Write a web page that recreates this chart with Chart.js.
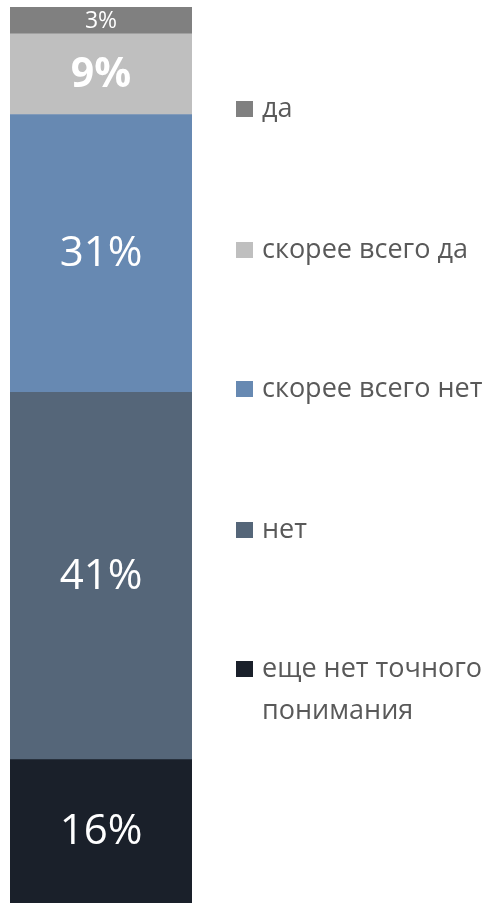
<!DOCTYPE html>
<html>
<head>
<meta charset="utf-8">
<script src="https://cdn.jsdelivr.net/npm/chart.js@4"></script>
<style>
    html, body { margin: 0; padding: 0; background: #fff; }
    #wrap { position: relative; width: 492px; height: 903px; }
</style>
</head>
<body>
<div id="wrap"><canvas id="stackChart"></canvas></div>
<script>
// stacked from bottom to top
var categories = ["Ответ"];
var seriesLabels = ["еще нет точного понимания", "нет", "скорее всего нет", "скорее всего да", "да"];
var seriesValues = [16, 41, 31, 9, 3];
var seriesColors = ["#1a202a", "#556679", "#6789b2", "#bfbfbf", "#808080"];
var valueLabels = ["16%", "41%", "31%", "9%", "3%"];
var labelFonts = ["normal 42px 'Open Sans'", "normal 42px 'Open Sans'", "normal 42px 'Open Sans'", "bold 41px 'Open Sans'", "normal 23px 'Open Sans'"];

// legend lines, top to bottom
var legendOrder = [4, 3, 2, 1, 0];
var legendLines = [["да"], ["скорее всего да"], ["скорее всего нет"], ["нет"], ["еще нет точного", "понимания"]];
var legendY = [109, 250, 389, 530, 669];

var segmentLabels = {
    id: 'segmentLabels',
    afterDatasetsDraw: function (chart) {
        var ctx = chart.ctx;
        ctx.save();
        ctx.fillStyle = "#ffffff";
        ctx.textAlign = "center";
        ctx.textBaseline = "middle";
        chart.data.datasets.forEach(function (ds, i) {
            var bar = chart.getDatasetMeta(i).data[0];
            ctx.font = labelFonts[i];
            ctx.fillText(valueLabels[i], bar.x, (bar.y + bar.base) / 2 + 1);
        });
        ctx.restore();
    }
};

var sideLegend = {
    id: 'sideLegend',
    afterDraw: function (chart) {
        var ctx = chart.ctx;
        ctx.save();
        ctx.font = "27px 'Open Sans'";
        ctx.textBaseline = "middle";
        legendOrder.forEach(function (idx, row) {
            var y = legendY[row];
            ctx.fillStyle = seriesColors[idx];
            ctx.fillRect(236, y - 8, 17, 16);
            ctx.fillStyle = "#595959";
            legendLines[row].forEach(function (line, k) {
                ctx.fillText(line, 262, y + k * 42);
            });
        });
        ctx.restore();
    }
};

var datasets = seriesValues.map(function (v, i) {
    return {
        label: seriesLabels[i],
        data: [v],
        backgroundColor: seriesColors[i],
        borderWidth: 0,
        barPercentage: 1,
        categoryPercentage: 1
    };
});

var chart = new Chart(document.getElementById("stackChart"), {
    type: 'bar',
    data: { labels: categories, datasets: datasets },
    options: {
        responsive: true,
        maintainAspectRatio: false,
        animation: false,
        layout: { padding: { left: 10, right: 300, top: 7, bottom: 0 } },
        plugins: {
            legend: { display: false },
            tooltip: { enabled: false }
        },
        scales: {
            x: { stacked: true, display: false },
            y: { stacked: true, display: false, min: 0, max: 100 }
        }
    },
    plugins: [segmentLabels, sideLegend]
});
</script>
</body>
</html>
